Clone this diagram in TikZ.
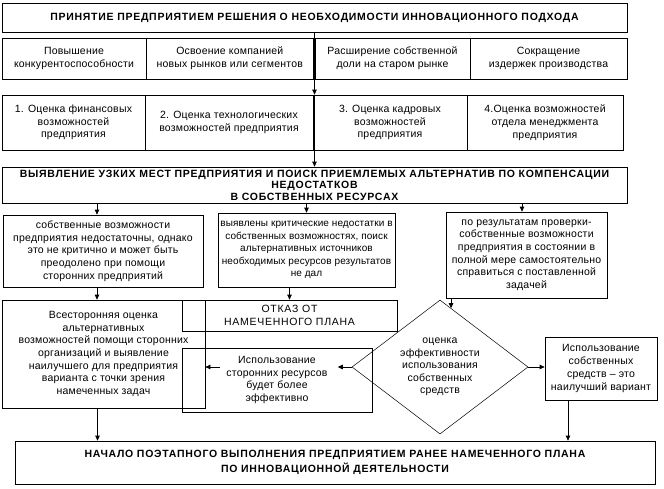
\documentclass[tikz,border=0pt]{standalone}
\usepackage{fontspec}
\setmainfont{Liberation Sans}
\usepackage{tikz}
\usetikzlibrary{shapes.geometric,arrows.meta,positioning,calc}

\begin{document}
\begin{tikzpicture}[x=1pt, y=-1pt,
    cell/.style={rectangle, draw, line width=0.7pt, inner sep=1pt, align=center, font=\fontsize{10.5}{12.7}\selectfont\addfontfeatures{LetterSpace=2}},
    headcell/.style={cell, font=\fontsize{10.5}{11.6}\selectfont\bfseries\addfontfeatures{LetterSpace=7}},
    decision/.style={diamond, draw, line width=0.5pt, inner sep=0pt, aspect=1.3, align=center, font=\fontsize{10.5}{12.5}\selectfont\addfontfeatures{LetterSpace=2}},
    arr/.style={-{Triangle[length=5pt,width=4.5pt]}, line width=0.7pt}
]
    \useasboundingbox (0,0) rectangle (664,488);

    % Decision and goals
    \node[headcell, minimum width=625, minimum height=29] (top) at (314.5,17.5)
        {ПРИНЯТИЕ ПРЕДПРИЯТИЕМ РЕШЕНИЯ О НЕОБХОДИМОСТИ ИННОВАЦИОННОГО ПОДХОДА};
    \node[cell, minimum width=144, minimum height=41] (goala) at (74,58.5)
        {Повышение\\конкурентоспособности};
    \node[cell, minimum width=167.5, minimum height=41] (goalb) at (229.75,58.5)
        {Освоение компанией\\новых рынков или сегментов};
    \node[cell, minimum width=155, minimum height=41] (goalc) at (392.5,58.5)
        {Расширение собственной\\доли на старом рынке};
    \node[cell, minimum width=157, minimum height=41] (goald) at (548.5,58.5)
        {Сокращение\\издержек  производства};

    % Assessments
    \node[cell, minimum width=143, minimum height=55] (evala) at (73.5,122.5)
        {1. Оценка финансовых\\возможностей\\предприятия};
    \node[cell, minimum width=168, minimum height=55] (evalb) at (229,122.5)
        {2. Оценка технологических\\возможностей предприятия};
    \node[cell, minimum width=154, minimum height=55] (evalc) at (390,122.5)
        {3. Оценка кадровых\\возможностей\\предприятия};
    \node[cell, minimum width=156, minimum height=55] (evald) at (545,122.5)
        {4.Оценка возможностей\\отдела менеджмента\\предприятия};

    \node[headcell, minimum width=625, minimum height=36, inner sep=0pt] (gaps) at (314.5,185)
        {ВЫЯВЛЕНИЕ УЗКИХ МЕСТ ПРЕДПРИЯТИЯ И ПОИСК ПРИЕМЛЕМЫХ АЛЬТЕРНАТИВ ПО КОМПЕНСАЦИИ\\НЕДОСТАТКОВ\\В СОБСТВЕННЫХ РЕСУРСАХ};

    % Outcomes
    \node[cell, minimum width=200, minimum height=72] (weak) at (103,251)
        {собственные возможности\\предприятия недостаточны, однако\\это не критично и может быть\\преодолено при помощи\\сторонних предприятий};
    \node[cell, minimum width=177, minimum height=74, font=\fontsize{10}{12.6}\selectfont\addfontfeatures{LetterSpace=1}] (crit) at (306.5,250)
        {выявлены  критические недостатки в\\собственных возможностях, поиск\\альтернативных источников\\необходимых ресурсов результатов\\не дал};
    \node[cell, minimum width=161, minimum height=86] (able) at (526.5,255)
        {по результатам проверки-\\собственные возможности\\предприятия в состоянии в\\полной мере самостоятельно\\справиться с поставленной\\задачей};

    \node[cell, minimum width=203, minimum height=108] (survey) at (103.5,354)
        {Всесторонняя оценка\\альтернативных\\возможностей помощи сторонних\\организаций и выявление\\наилучшего для предприятия\\варианта с точки зрения\\намеченных задач};
    \node[cell, minimum width=215, minimum height=31, font=\fontsize{10.5}{13}\selectfont\addfontfeatures{LetterSpace=7}] (refuse) at (289.5,315.5)
        {ОТКАЗ ОТ\\НАМЕЧЕННОГО ПЛАНА};
    \node[cell, minimum width=190, minimum height=64] (outside) at (277,380)
        {Использование\\сторонних ресурсов\\будет  более\\эффективно};
    \node[decision, minimum width=176, minimum height=134] (dia) at (440,367)
        {оценка\\эффективности\\использования\\собственных\\средств};
    \node[cell, minimum width=112, minimum height=63] (own) at (601,368.5)
        {Использование\\собственных\\средств – это\\наилучший  вариант};

    \node[headcell, minimum width=640, minimum height=43, font=\fontsize{10.5}{15}\selectfont\bfseries\addfontfeatures{LetterSpace=7}] (start) at (335,462.5)
        {НАЧАЛО ПОЭТАПНОГО ВЫПОЛНЕНИЯ ПРЕДПРИЯТИЕМ РАНЕЕ НАМЕЧЕННОГО ПЛАНА\\ПО ИННОВАЦИОННОЙ ДЕЯТЕЛЬНОСТИ};

    % Connectors
    \draw[arr] (top.south) -- (top.south |- evala.north);
    \draw[arr] (top.south |- evala.north) -- (top.south |- gaps.north);
    \draw[arr] ([xshift=-6pt]weak.north |- gaps.south) -- ([xshift=-6pt]weak.north);
    \draw[arr] (crit.north |- gaps.south) -- (crit.north);
    \draw[arr] ([xshift=-4.5pt]able.north |- gaps.south) -- ([xshift=-4.5pt]able.north);
    \draw[arr] ([xshift=-6pt]weak.south) -- ([xshift=-6pt]weak.south |- survey.north);
    \draw[arr] (refuse.north |- crit.south) -- (refuse.north);

    \coordinate (dtop) at ($(dia.north)!0.125!(dia.east)$);
    \draw[arr] (dtop |- able.south) -- (dtop);
    \coordinate (dleft) at ([xshift=-14pt]dia.west);
    \draw[arr] (dia.west) -- (dleft);
    \coordinate (oleft) at ([xshift=38pt]outside.west);
    \draw[arr] (oleft |- dia.west) -- (survey.east |- dia.west);
    \draw[arr] (dia.east) -- (own.west |- dia.east);

    \draw[arr] ([xshift=-6pt]survey.south) -- ([xshift=-6pt]survey.south |- start.north);
    \draw[arr] ([xshift=-33pt]own.south) -- ([xshift=-33pt]own.south |- start.north);
\end{tikzpicture}
\end{document}
